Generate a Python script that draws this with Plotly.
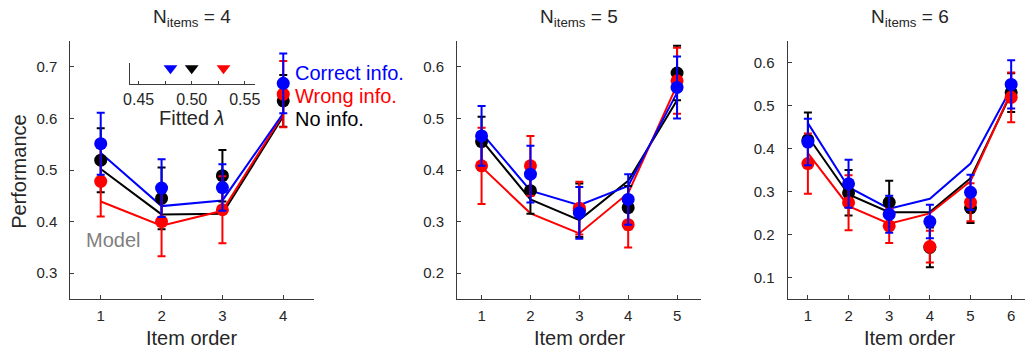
import plotly.graph_objects as go

W, H = 1030, 354

# ---------------- data ----------------
x4 = [1, 2, 3, 4]
x5 = [1, 2, 3, 4, 5]
x6 = [1, 2, 3, 4, 5, 6]

# N_items = 4
p4_blue = [0.551, 0.465, 0.466, 0.668]
p4_blue_err = [0.060, 0.056, 0.045, 0.058]
p4_black = [0.519, 0.445, 0.489, 0.634]
p4_black_err = [0.062, 0.060, 0.050, 0.050]
p4_red = [0.478, 0.400, 0.423, 0.647]
p4_red_err = [0.068, 0.067, 0.065, 0.064]
m4_blue = [0.533, 0.430, 0.441, 0.610]
m4_black = [0.502, 0.414, 0.415, 0.604]
m4_red = [0.439, 0.392, 0.421, 0.608]

# N_items = 5
p5_blue = [0.466, 0.392, 0.317, 0.343, 0.560]
p5_blue_err = [0.058, 0.055, 0.050, 0.049, 0.060]
p5_black = [0.455, 0.360, 0.322, 0.327, 0.588]
p5_black_err = [0.048, 0.045, 0.052, 0.042, 0.053]
p5_red = [0.408, 0.408, 0.326, 0.294, 0.573]
p5_red_err = [0.074, 0.058, 0.051, 0.044, 0.064]
m5_blue = [0.472, 0.360, 0.332, 0.369, 0.550]
m5_black = [0.458, 0.343, 0.303, 0.379, 0.535]
m5_red = [0.406, 0.316, 0.277, 0.355, 0.565]

# N_items = 6
p6_blue = [0.415, 0.318, 0.247, 0.230, 0.298, 0.549]
p6_blue_err = [0.054, 0.056, 0.043, 0.039, 0.041, 0.056]
p6_black = [0.420, 0.297, 0.275, 0.170, 0.262, 0.530]
p6_black_err = [0.064, 0.053, 0.050, 0.046, 0.035, 0.045]
p6_red = [0.365, 0.274, 0.220, 0.172, 0.275, 0.519]
p6_red_err = [0.070, 0.064, 0.040, 0.037, 0.044, 0.058]
m6_blue = [0.459, 0.310, 0.260, 0.283, 0.365, 0.540]
m6_black = [0.428, 0.293, 0.252, 0.252, 0.331, 0.528]
m6_red = [0.389, 0.266, 0.225, 0.249, 0.324, 0.532]

# fitted lambda (inset)
lambda_vals = [0.48, 0.50, 0.53]
lambda_colors = ["blue", "black", "red"]
lambda_ticks = [0.45, 0.50, 0.55]
lambda_ticktext = ["0.45", "0.50", "0.55"]

legend_labels = ["Correct info.", "Wrong info.", "No info."]
legend_colors = ["blue", "red", "black"]

titles = ["N<sub>items</sub> = 4", "N<sub>items</sub> = 5", "N<sub>items</sub> = 6"]

# ---------------- styling ----------------
FONT = "Liberation Sans, Arial, sans-serif"
TXT = "#262626"
AX = "#3a3a3a"
BLUE, RED, BLACK = "#0000ff", "#ff0000", "#000000"
LBL = 20


def px_x(p):
    return p / W


def px_y(p):
    return 1 - p / H


fig = go.Figure()

panels = [
    dict(x=x4, data=[(p4_black, p4_black_err, BLACK), (p4_red, p4_red_err, RED), (p4_blue, p4_blue_err, BLUE)],
         model=[(m4_black, BLACK), (m4_red, RED), (m4_blue, BLUE)], ax=""),
    dict(x=x5, data=[(p5_black, p5_black_err, BLACK), (p5_red, p5_red_err, RED), (p5_blue, p5_blue_err, BLUE)],
         model=[(m5_black, BLACK), (m5_red, RED), (m5_blue, BLUE)], ax="2"),
    dict(x=x6, data=[(p6_black, p6_black_err, BLACK), (p6_red, p6_red_err, RED), (p6_blue, p6_blue_err, BLUE)],
         model=[(m6_black, BLACK), (m6_red, RED), (m6_blue, BLUE)], ax="3"),
]

for p in panels:
    xa = "x" + p["ax"]
    ya = "y" + p["ax"]
    for vals, col in p["model"]:
        fig.add_trace(go.Scatter(x=p["x"], y=vals, mode="lines", line=dict(color=col, width=2),
                                 xaxis=xa, yaxis=ya, showlegend=False, hoverinfo="skip"))
    for vals, err, col in p["data"]:
        fig.add_trace(go.Scatter(x=p["x"], y=vals, mode="markers",
                                 marker=dict(color=col, size=13, line=dict(width=0)),
                                 error_y=dict(type="data", array=err, visible=True, color=col,
                                              thickness=2, width=4),
                                 xaxis=xa, yaxis=ya, showlegend=False, hoverinfo="skip"))

# inset triangles
fig.add_trace(go.Scatter(x=lambda_vals, y=[0.75, 0.75, 0.75], mode="markers",
                         marker=dict(symbol="triangle-down", size=12, color=lambda_colors, line=dict(width=0)),
                         xaxis="x4", yaxis="y4", showlegend=False, hoverinfo="skip"))

ydom = [px_y(299), px_y(41)]
common_x = dict(showline=True, linecolor=AX, linewidth=1, ticks="inside", ticklen=4, tickcolor=AX,
                showgrid=False, zeroline=False, tickfont=dict(family=FONT, size=15, color=TXT),
                ticklabelstandoff=3)
common_y = dict(showline=True, linecolor=AX, linewidth=1, ticks="inside", ticklen=4, tickcolor=AX,
                showgrid=False, zeroline=False, tickfont=dict(family=FONT, size=15, color=TXT),
                ticklabelstandoff=9)

layout = dict(
    width=W, height=H, margin=dict(l=0, r=0, t=0, b=0),
    paper_bgcolor="white", plot_bgcolor="white",
    font=dict(family=FONT, color=TXT),
    xaxis=dict(domain=[px_x(65), px_x(311)], range=[0.5, 4.5], tickvals=x4, anchor="y", **common_x),
    yaxis=dict(domain=ydom, range=[0.25, 0.75], tickvals=[0.3, 0.4, 0.5, 0.6, 0.7], anchor="x", **common_y),
    xaxis2=dict(domain=[px_x(456), px_x(703)], range=[0.5, 5.5], tickvals=x5, anchor="y2", **common_x),
    yaxis2=dict(domain=ydom, range=[0.15, 0.65], tickvals=[0.2, 0.3, 0.4, 0.5, 0.6], anchor="x2", **common_y),
    xaxis3=dict(domain=[px_x(790), 1.0], range=[0.5, 6.34], tickvals=x6, anchor="y3", **common_x),
    yaxis3=dict(domain=ydom, range=[0.05, 0.65], tickvals=[0.1, 0.2, 0.3, 0.4, 0.5, 0.6], anchor="x3", **common_y),
    xaxis4=dict(domain=[px_x(125), px_x(252)], range=[0.4415, 0.56], anchor="y4",
                tickvals=lambda_ticks, ticktext=lambda_ticktext,
                minor=dict(dtick=0.025, tick0=0.45, ticks="inside", ticklen=3, tickcolor=AX, showgrid=False),
                showline=True, linecolor=AX, linewidth=1, ticks="inside", ticklen=3, tickcolor=AX,
                showgrid=False, zeroline=False, tickfont=dict(family=FONT, size=16, color=TXT),
                ticklabelstandoff=1),
    yaxis4=dict(domain=[px_y(84), px_y(63)], range=[0, 1], anchor="x4", showline=True, linecolor=AX,
                linewidth=1, ticks="", showticklabels=False, showgrid=False, zeroline=False),
)

annotations = []
centers = [(65 + 311) / 2, (456 + 703) / 2, (790 + 1037) / 2]
for c, t in zip(centers, titles):
    annotations.append(dict(x=px_x(c), y=px_y(18), xref="paper", yref="paper", text=t, showarrow=False,
                            font=dict(family=FONT, size=19, color=TXT), xanchor="center", yanchor="middle"))
    annotations.append(dict(x=px_x(c), y=px_y(338), xref="paper", yref="paper", text="Item order",
                            showarrow=False, font=dict(family=FONT, size=LBL, color=TXT),
                            xanchor="center", yanchor="middle"))

annotations.append(dict(x=px_x(13), y=px_y(171), xref="paper", yref="paper", text="Performance",
                        showarrow=False, textangle=-90, font=dict(family=FONT, size=LBL, color=TXT),
                        xanchor="center", yanchor="middle"))

for i, (lab, col) in enumerate(zip(legend_labels, legend_colors)):
    annotations.append(dict(x=px_x(290), y=px_y(73 + 23 * i), xref="paper", yref="paper", text=lab,
                            showarrow=False, font=dict(family=FONT, size=LBL, color=col),
                            xanchor="left", yanchor="middle"))

annotations.append(dict(x=px_x(187), y=px_y(118), xref="paper", yref="paper", text="Fitted <i>λ</i>",
                        showarrow=False, font=dict(family=FONT, size=LBL, color=TXT),
                        xanchor="center", yanchor="middle"))
annotations.append(dict(x=px_x(108), y=px_y(240), xref="paper", yref="paper", text="Model",
                        showarrow=False, font=dict(family=FONT, size=LBL, color="#7f7f7f"),
                        xanchor="center", yanchor="middle"))

layout["annotations"] = annotations
fig.update_layout(**layout)

fig.write_html("out.html", config={"displayModeBar": False},
               post_script="document.body.style.margin='0px';document.body.style.padding='0px';"
                           "document.body.style.overflow='hidden';")
